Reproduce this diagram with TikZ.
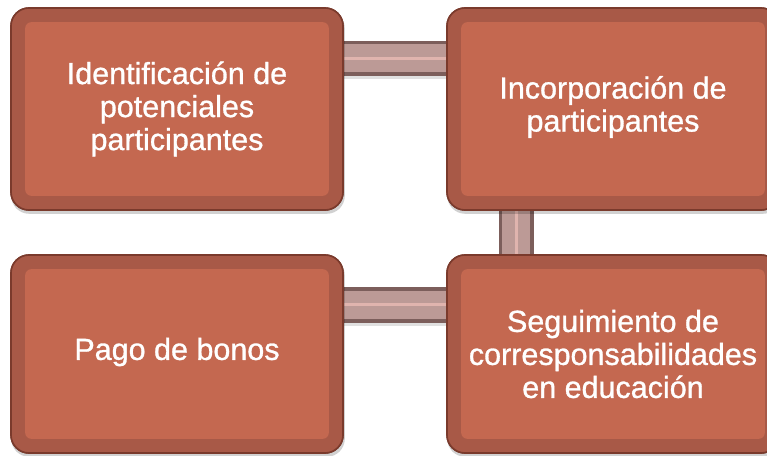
\documentclass[tikz,border=0pt]{standalone}
\usepackage{fontspec}
\setmainfont{Liberation Sans}
\newfontfamily\lblfont{Liberation Sans}[FakeBold=1]
\definecolor{boxborder}{RGB}{122,58,44}
\definecolor{boxring}{RGB}{168,89,71}
\definecolor{boxinner}{RGB}{196,104,80}
\definecolor{connedge}{RGB}{124,94,91}
\definecolor{connfill}{RGB}{188,154,150}
\definecolor{connhi}{RGB}{224,180,174}
\tikzset{
  outerbox/.style={draw=boxborder, line width=1.6pt, fill=boxring, rounded corners=18pt,
    minimum width=332pt, minimum height=#1, inner sep=0pt},
  innerfill/.style={fill=boxinner, rounded corners=6pt},
  boxshadow/.style={fill=black, opacity=0.18, rounded corners=18pt},
  label/.style={text=white, align=center, font=\lblfont\fontsize{30.5}{33}\selectfont, inner sep=0pt},
  connbase/.style={draw=connedge, line width=35pt},
  connmid/.style={draw=connfill, line width=28pt},
  connhil/.style={draw=connhi, line width=3pt},
  connshadow/.style={draw=black, opacity=0.12, line width=35pt},
}
\begin{document}
\begin{tikzpicture}[x=1pt,y=1pt]
\useasboundingbox (0,0) rectangle (767,455);
% boxes (defined first, drawn over later)
\node[outerbox=202pt] (a) at (177,346) {};
\node[outerbox=202pt] (b) at (613,346) {};
\node[outerbox=198pt] (c) at (177,101) {};
\node[outerbox=198pt] (d) at (613,101) {};
% connectors
\draw[connshadow] ([yshift=47]a.east) -- ([yshift=47]b.west);
\draw[connbase] ([yshift=50.5]a.east) -- ([yshift=50.5]b.west);
\draw[connmid]  ([yshift=50.5]a.east) -- ([yshift=50.5]b.west);
\draw[connhil]  ([yshift=50.5]a.east) -- ([yshift=50.5]b.west);
\draw[connshadow] ([yshift=46]c.east) -- ([yshift=46]d.west);
\draw[connbase] ([yshift=49]c.east) -- ([yshift=49]d.west);
\draw[connmid]  ([yshift=49]c.east) -- ([yshift=49]d.west);
\draw[connhil]  ([yshift=49]c.east) -- ([yshift=49]d.west);
\draw[connbase] ([xshift=-97]b.south) -- ([xshift=-97]d.north);
\draw[connmid]  ([xshift=-97]b.south) -- ([xshift=-97]d.north);
\draw[connhil]  ([xshift=-97]b.south) -- ([xshift=-97]d.north);
% box faces
\foreach \n/\h in {a/202pt,b/202pt,c/198pt,d/198pt}{
  \fill[boxshadow] ([shift={(1,-3)}]\n.south west) rectangle ([shift={(1,-3)}]\n.north east);
  \node[outerbox=\h] at (\n) {};
  \fill[innerfill] ([shift={(15,15)}]\n.south west) rectangle ([shift={(-15,-15)}]\n.north east);
}
% labels
\node[label] (ta) at (a) {Identificación de\\potenciales\\participantes};
\node[label] (tb) at ([yshift=2]b) {Incorporación de\\participantes};
\node[label] (tc) at ([yshift=2]c) {Pago de bonos};
\node[label] (td) at (d) {Seguimiento de\\corresponsabilidades\\en educación};
\end{tikzpicture}
\end{document}
